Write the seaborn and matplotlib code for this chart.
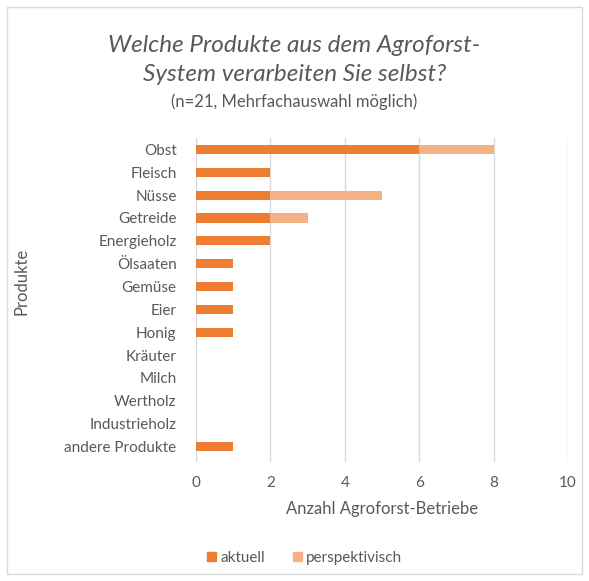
import numpy as np
import pandas as pd
import matplotlib
matplotlib.use("Agg")
import matplotlib.pyplot as plt
import seaborn as sns
from matplotlib.patches import Rectangle, Patch

# Daten
produkte = ["Obst", "Fleisch", "Nüsse", "Getreide", "Energieholz", "Ölsaaten", "Gemüse",
            "Eier", "Honig", "Kräuter", "Milch", "Wertholz", "Industrieholz", "andere Produkte"]
aktuell = [6, 2, 2, 2, 2, 1, 1, 1, 1, 0, 0, 0, 0, 1]
perspektivisch = [2, 0, 3, 1, 0, 0, 0, 0, 0, 0, 0, 0, 0, 0]
x_ticks = [0, 2, 4, 6, 8, 10]

df = pd.DataFrame({"Produkt": produkte, "aktuell": aktuell, "perspektivisch": perspektivisch})
df["gesamt"] = df["aktuell"] + df["perspektivisch"]

sns.set_theme(style="white")
plt.rcParams["font.family"] = ["Lato", "DejaVu Sans"]

farbe_akt = "#ED7D31"
farbe_persp = "#F4B183"
grau = "#595959"

fig = plt.figure(figsize=(5.89, 5.81), dpi=100)
ax = fig.add_axes([0.3328, 0.2048, 0.6316, 0.5577])

sns.barplot(data=df, x="gesamt", y="Produkt", color=farbe_persp, orient="h",
            width=0.4, saturation=1, linewidth=0, ax=ax, zorder=2)
sns.barplot(data=df, x="aktuell", y="Produkt", color=farbe_akt, orient="h",
            width=0.4, saturation=1, linewidth=0, ax=ax, zorder=3)

ax.set_xlim(0, 10)
ax.set_ylim(13.68, -0.5)
ax.set_xticks(x_ticks)
ax.set_xticklabels([str(t) for t in x_ticks], fontsize=11, color=grau)
ax.tick_params(axis="y", labelsize=11, labelcolor=grau, length=0, pad=14)
ax.tick_params(axis="x", length=0, pad=10)
ax.xaxis.grid(True, color="#D9D9D9", linewidth=1)
ax.set_axisbelow(True)
for s in ax.spines.values():
    s.set_visible(False)

ax.set_xlabel("Anzahl Agroforst-Betriebe", fontsize=12, color=grau, labelpad=8)
ax.set_ylabel("")
fig.text(0.036, 0.515, "Produkte", rotation=90, fontsize=12, color=grau, ha="center", va="center")

fig.text(0.5, 0.897, "Welche Produkte aus dem Agroforst-\nSystem verarbeiten Sie selbst?",
         ha="center", va="center", fontsize=17.5, style="italic", color=grau, linespacing=1.45)
fig.text(0.5, 0.825, "(n=21, Mehrfachauswahl möglich)", ha="center", va="center",
         fontsize=12, color=grau)

handles = [Patch(color=farbe_akt, label="aktuell"), Patch(color=farbe_persp, label="perspektivisch")]
fig.legend(handles=handles, loc="center", bbox_to_anchor=(0.517, 0.04), ncol=2, frameon=False,
           fontsize=11, handlelength=0.6, handleheight=0.6, handletextpad=0.3, columnspacing=1.8,
           labelcolor=grau)

fig.patches.append(Rectangle((0.012, 0.012), 0.976, 0.976, transform=fig.transFigure,
                             fill=False, edgecolor="#D9D9D9", linewidth=1))

fig.savefig("out.png", dpi=100)
